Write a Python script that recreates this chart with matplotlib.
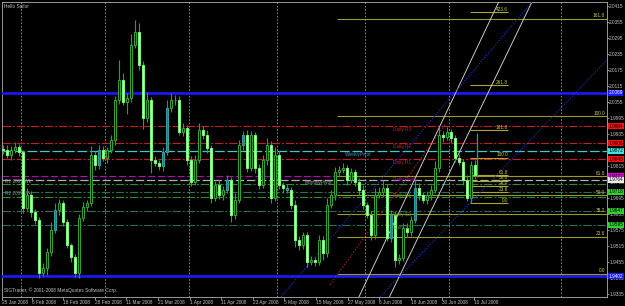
import matplotlib.pyplot as plt
import numpy as np
import matplotlib.transforms as mtransforms

plt.rcParams['font.family'] = ['Liberation Sans', 'DejaVu Sans']
plt.rcParams['lines.scale_dashes'] = False

# daily closes, one per bar (bar 0 = 25 Jan 2008)
closes = [1.9875, 1.9856, 1.9875, 1.9886, 1.9868, 1.9658, 1.9706, 1.9643, 1.9613, 1.9414,
          1.9433, 1.9493, 1.9575, 1.9650, 1.9676, 1.9605, 1.9519, 1.9474, 1.9414, 1.9620,
          1.9661, 1.9676, 1.9856, 1.9819, 1.9875, 1.9845, 1.9875, 1.9913, 2.0063, 2.0138,
          2.0055, 2.0070, 2.0269, 2.0318, 2.0194, 1.9995, 2.0063, 1.9838, 1.9826, 1.9815,
          1.9868, 2.0033, 2.0063, 2.0063, 1.9943, 1.9958, 1.9838, 1.9755, 1.9838, 1.9950,
          1.9931, 1.9883, 1.9695, 1.9744, 1.9706, 1.9725, 1.9763, 1.9631, 1.9688, 1.9894,
          1.9931, 1.9808, 1.9931, 1.9808, 1.9744, 1.9838, 1.9894, 1.9695, 1.9856, 1.9744,
          1.9733, 1.9725, 1.9669, 1.9538, 1.9519, 1.9556, 1.9455, 1.9463, 1.9455, 1.9538,
          1.9489, 1.9669, 1.9706, 1.9793, 1.9800, 1.9808, 1.9763, 1.9793, 1.9755, 1.9725,
          1.9669, 1.9631, 1.9556, 1.9706, 1.9718, 1.9733, 1.9545, 1.9631, 1.9463, 1.9470,
          1.9583, 1.9568, 1.9613, 1.9733, 1.9706, 1.9688, 1.9706, 1.9725, 1.9808, 1.9931,
          1.9924, 1.9943, 1.9920, 1.9845, 1.9830, 1.9763, 1.9695, 1.9819, 1.9781]
first_open = 1.9880

# wick lengths in pips above / below the body
up_wick = [12, 20, 15, 18, 10, 8, 25, 15, 12, 10,
           20, 15, 30, 25, 15, 12, 10, 8, 12, 15,
           20, 10, 35, 15, 20, 15, 12, 20, 15, 75,
           25, 20, 40, 45, 35, 15, 30, 10, 15, 12,
           20, 30, 25, 20, 15, 20, 12, 15, 20, 25,
           15, 20, 10, 15, 20, 15, 18, 10, 25, 20,
           15, 20, 15, 10, 15, 20, 25, 15, 30, 15,
           12, 15, 10, 20, 15, 12, 10, 15, 10, 20,
           15, 25, 20, 18, 15, 20, 12, 15, 10, 15,
           20, 10, 15, 25, 20, 30, 15, 20, 12, 15,
           20, 18, 15, 30, 20, 12, 15, 20, 25, 30,
           15, 18, 12, 10, 15, 12, 20, 15, 18]
dn_wick = [15, 10, 20, 12, 15, 18, 10, 20, 15, 20,
           12, 25, 15, 10, 20, 15, 12, 18, 15, 20,
           10, 15, 12, 20, 15, 10, 18, 12, 20, 15,
           10, 45, 15, 12, 20, 40, 15, 50, 12, 15,
           18, 10, 15, 20, 12, 15, 20, 15, 12, 10,
           15, 20, 18, 10, 15, 20, 12, 25, 15, 10,
           20, 15, 12, 20, 15, 10, 18, 20, 12, 15,
           20, 12, 15, 25, 20, 15, 18, 12, 15, 10,
           25, 15, 12, 20, 15, 10, 18, 12, 15, 20,
           15, 12, 20, 15, 10, 18, 12, 15, 25, 15,
           12, 20, 15, 10, 18, 12, 15, 20, 10, 15,
           18, 12, 20, 15, 10, 18, 12, 20, 15]
teal_bars = [13, 24, 40, 41, 56, 60, 71, 97, 103]

date_labels = ["25 Jan 2008", "6 Feb 2008", "18 Feb 2008", "28 Feb 2008", "11 Mar 2008",
               "21 Mar 2008", "1 Apr 2008", "11 Apr 2008", "23 Apr 2008", "5 May 2008",
               "15 May 2008", "27 May 2008", "6 Jun 2008", "18 Jun 2008", "30 Jun 2008",
               "10 Jul 2008"]
month_starts = [5, 26, 47, 69, 91, 112, 140]

# pivot levels
daily_names = ["Daily R3", "Daily R2", "Daily R1", "Daily Pivot", "Daily S1", "Daily S2", "Daily S3"]
daily_prices = [1.9964, 1.9900, 1.9840, 1.9777, 1.9718, 1.9647, 1.9595]
weekly_pivot = 1.9872
monthly_pivot = 1.9764
extra_green = [1.9748, 1.9698]
blue_levels = [2.0089, 1.9402]

# fibonacci retracements
fib_levels = [0.0, 23.6, 38.2, 50.0, 61.8, 100.0, 161.8]
fib_low, fib_high, fib_start = 1.9410, 2.0002, 83.5
fib2_levels = [0.0, 23.6, 38.2, 50.0, 61.8, 100.0, 161.8, 261.8, 423.6]
fib2_low, fib2_high, fib2_start, fib2_end = 1.9676, 1.9845, 116.75, 126.25

# trend lines (bar, price) pairs
gray_lines = [((91.0, 1.9388), (113.5, 2.0100)), ((99.25, 1.9406), (121.25, 2.0089))]
blue_dotted = [((69.25, 1.9320), (113.5, 2.0100)), ((99.25, 1.9403), (150.5, 2.0205))]
red_dotted = ((81.75, 1.9369), (110.5, 1.9969))

BG = "black"
TXT = "#c0c0c0"
FS = 3.4

fig = plt.figure(figsize=(6.25, 3.06), dpi=100, facecolor=BG)
ax = fig.add_axes([2 / 625, 9 / 306, 605 / 625, 295 / 306], facecolor=BG)
ax.set_xlim(-0.25, 151)
ax.set_ylim(1.93238, 2.0430)

closes = np.array(closes)
opens = np.r_[first_open, closes[:-1]]
highs = np.maximum(opens, closes) + np.array(up_wick) * 1e-4
lows = np.minimum(opens, closes) - np.array(dn_wick) * 1e-4
x = np.arange(len(closes))

# grid separators
for m in month_starts:
    ax.axvline(m - 0.5, color="#9a9a9a", lw=0.6, ls=(0, (1.2, 1.2)), zorder=1)

# horizontal levels
dd = (0, (6, 1.4, 1.4, 1.4))
for name, p in zip(daily_names, daily_prices):
    if "R" in name:
        col, tcol = "#c42020", "#c42020"
    elif "Pivot" in name:
        col, tcol = "#c000c0", "#c000c0"
    else:
        col, tcol = "#2a6e5a", "#5a8a2a"
    ls = (0, (5, 2)) if "Pivot" in name else dd
    ax.axhline(p, color=col, lw=0.8, ls=ls, zorder=2)
    ax.text(97.5, p - 0.0003, name, color=tcol, fontsize=FS, va="top", ha="left", zorder=6)
ax.axhline(weekly_pivot, color="#40c8c8", lw=0.9, ls=(0, (7, 2)), zorder=2)
ax.text(85.5, weekly_pivot - 0.0003, "WeeklyPivot", color="#4a90c0", fontsize=FS, va="top", zorder=6)
ax.axhline(monthly_pivot, color="#b0b0b0", lw=0.9, ls=(0, (6, 2)), zorder=2)
ax.text(75.5, monthly_pivot - 0.0003, "MonthlyPivot", color="#a0a0a0", fontsize=FS, va="top", zorder=6)
for p in extra_green:
    ax.axhline(p, color="#2e8b2e", lw=0.8, ls=dd, zorder=2)
ax.text(0.5, 1.9768, "R1 2007 Wk", color="#909090", fontsize=FS, va="top", zorder=6)
ax.text(0.5, 1.9720, "R2 2007 Wk", color="#909090", fontsize=FS, va="top", zorder=6)

for p in blue_levels:
    ax.axhline(p, color="#1a1aff", lw=1.9, zorder=3)

# fibonacci
rng = fib_high - fib_low
for lv in fib_levels:
    p = fib_low + rng * lv / 100
    ax.hlines(p, fib_start, 151, color="#9a9a28", lw=0.8, zorder=3)
    ax.text(150.5, p + 0.0002, f"{lv:.1f}", color="#c8c850", fontsize=FS, ha="right", va="bottom", zorder=6)
rng2 = fib2_high - fib2_low
for lv in fib2_levels:
    p = fib2_low + rng2 * lv / 100
    ax.hlines(p, fib2_start, fib2_end, color="#a8a830", lw=0.8, zorder=3)
    ax.text(fib2_end, p + 0.0002, f"{lv:.1f}", color="#c8c850", fontsize=FS, ha="right", va="bottom", zorder=6)

# trend lines
for a, b in gray_lines:
    ax.axline(a, b, color="#c8c8c8", lw=0.7, zorder=4)
for a, b in blue_dotted:
    ax.axline(a, b, color="#2030d0", lw=0.7, ls=(0, (1, 1)), zorder=4)
ax.plot([red_dotted[0][0], red_dotted[1][0]], [red_dotted[0][1], red_dotted[1][1]],
        color="#c02020", lw=0.7, ls=(0, (1, 1.2)), zorder=4)
ax.vlines(118.5, 1.9774, 1.9939, color="#2a9a9a", lw=0.9, zorder=4)

# candles
wick_col = ["#2a8a8a" if i in teal_bars else "#2e9e2e" for i in x]
ax.vlines(x, lows, highs, colors=wick_col, lw=0.8, zorder=5)
for i in x:
    o, c = opens[i], closes[i]
    h = max(abs(c - o), 0.00008)
    if i in teal_bars:
        fc, ec = ("#208080", "#30a0a0")
    elif c < o:
        fc, ec = ("#f4fff4", "#70ff70")
    else:
        fc, ec = ("black", "#2eaa2e")
    ax.bar(i, h, bottom=min(o, c), width=0.72, color=fc, edgecolor=ec, lw=0.7, zorder=5)

# price axis
ax.yaxis.tick_right()
ax.set_yticks(np.arange(1.9335, 2.0416, 0.006))
ax.yaxis.set_major_formatter(plt.FormatStrFormatter("%.4f"))
ax.tick_params(axis="y", colors=TXT, labelsize=FS, length=1.2, width=0.5, pad=0.4)

# price boxes on the axis
trans = mtransforms.blended_transform_factory(ax.transAxes, ax.transData)
boxes = [(daily_prices[0], "#ff1010", "black"), (daily_prices[1], "#ff1010", "black"),
         (weekly_pivot, "#40e0e0", "black"), (daily_prices[2], "#ff1010", "black"),
         (daily_prices[3], "#e000e0", "black"), (monthly_pivot, "#f0f0f0", "black"),
         (daily_prices[4], "#30d030", "black"), (daily_prices[5], "#30d030", "black"),
         (daily_prices[6], "#30d030", "black"),
         (blue_levels[0], "#1a1aff", "white"), (blue_levels[1], "#1a1aff", "white")]
for p, fc, tc in boxes:
    ax.text(1.0025, p, f"{p:.4f}", transform=trans, fontsize=FS, color=tc, va="center", ha="left",
            bbox=dict(boxstyle="square,pad=0.12", fc=fc, ec="none"), clip_on=False, zorder=10)

# date axis
pos = [max((31.6 * k - 3) / 4, -0.25) for k in range(len(date_labels))]
ax.set_xticks(pos)
ax.set_xticklabels(date_labels)
ax.tick_params(axis="x", colors=TXT, labelsize=FS, length=2, width=0.5, pad=0.5)
for t in ax.get_xticklabels():
    t.set_ha("left")

for s in ax.spines.values():
    s.set_color("#b0b0b0")
    s.set_linewidth(0.6)

ax.text(0.003, 0.992, "Hello Sailor", transform=ax.transAxes, color=TXT, fontsize=FS, va="top", ha="left")
ax.text(0.003, 0.012, "SIGTrader, \u00a9 2001-2008 MetaQuotes Software Corp.", transform=ax.transAxes,
        color=TXT, fontsize=FS, va="bottom", ha="left")

fig.savefig("out.png", dpi=100, facecolor=BG)
